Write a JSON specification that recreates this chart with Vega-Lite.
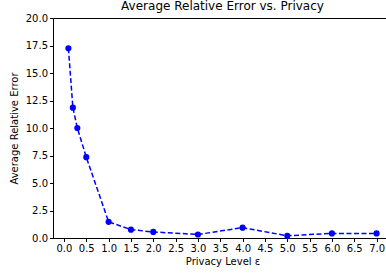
{
  "$schema": "https://vega.github.io/schema/vega-lite/v6.json",
  "autosize": "none",
  "padding": {"left": 53, "top": 18, "right": 0, "bottom": 37},
  "width": 339,
  "height": 220,
  "background": "white",
  "title": {"text": "Average Relative Error vs. Privacy", "font": "DejaVu Sans", "fontSize": 12, "fontWeight": "normal", "color": "black", "offset": 0, "anchor": "middle"},
  "config": {
    "view": {"stroke": "black", "strokeWidth": 1},
    "axis": {"labelFont": "DejaVu Sans", "titleFont": "DejaVu Sans", "labelFontSize": 10, "titleFontSize": 10, "titleFontWeight": "normal", "labelColor": "black", "titleColor": "black", "tickColor": "black", "domainColor": "black", "tickSize": 3.5, "grid": false, "labelPadding": 2}
  },
  "data": {"values": [
    {"eps": 0.1, "err": 17.25},
    {"eps": 0.2, "err": 11.85},
    {"eps": 0.3, "err": 10.0},
    {"eps": 0.5, "err": 7.35},
    {"eps": 1.0, "err": 1.47},
    {"eps": 1.5, "err": 0.76},
    {"eps": 2.0, "err": 0.55},
    {"eps": 3.0, "err": 0.32},
    {"eps": 4.0, "err": 0.94},
    {"eps": 5.0, "err": 0.2},
    {"eps": 6.0, "err": 0.42},
    {"eps": 7.0, "err": 0.42}
  ]},
  "encoding": {
    "x": {"field": "eps", "type": "quantitative", "scale": {"domain": [-0.245, 7.345], "nice": false, "zero": false},
      "axis": {"values": [0,0.5,1,1.5,2,2.5,3,3.5,4,4.5,5,5.5,6,6.5,7], "format": ".1f", "title": "Privacy Level ε", "titlePadding": 3}},
    "y": {"field": "err", "type": "quantitative", "scale": {"domain": [0, 20], "nice": false},
      "axis": {"values": [0,2.5,5,7.5,10,12.5,15,17.5,20], "format": ".1f", "title": "Average Relative Error", "titlePadding": 6}}
  },
  "layer": [
    {"mark": {"type": "line", "color": "#0000ff", "strokeWidth": 1.5, "strokeDash": [5, 2.5]}},
    {"mark": {"type": "circle", "color": "#0000ff", "size": 38, "opacity": 1}}
  ]
}
